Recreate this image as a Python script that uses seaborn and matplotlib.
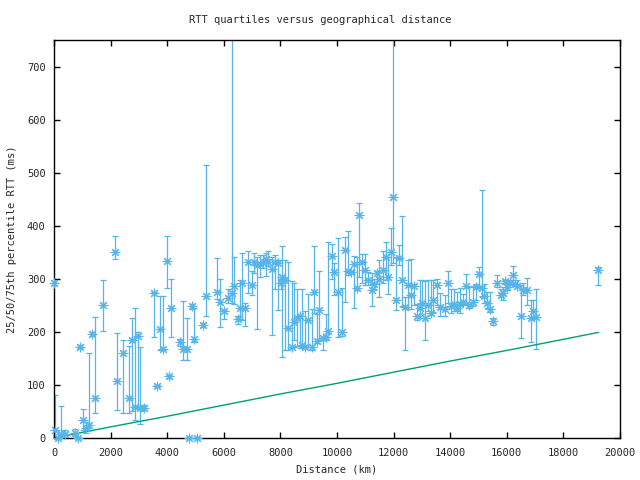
import matplotlib
matplotlib.use("Agg")
import matplotlib.pyplot as plt
import seaborn as sns
import pandas as pd
import numpy as np

# distance (km), 25th, 50th, 75th percentile RTT (ms)
distance = [0, 50, 140, 250, 390, 740, 850, 920, 1020, 1130, 1240, 1340, 1450, 1730,
            2160, 2230, 2440, 2650, 2760, 2860, 2960, 3040, 3180, 3540, 3650, 3750,
            3860, 3980, 4060, 4135, 4450, 4570, 4690, 4770, 4870, 4960, 5060, 5280,
            5370, 5750, 5880, 6000, 6140, 6280, 6370, 6490, 6570, 6655, 6750, 6870,
            6990, 7070, 7190, 7280, 7380, 7490, 7570, 7690, 7810, 7930, 8010, 8050,
            8160, 8280, 8400, 8490, 8600, 8690, 8780, 8870, 8990, 9110, 9190, 9280,
            9380, 9500, 9610, 9690, 9810, 9910, 10020, 10190, 10280, 10400, 10500,
            10610, 10700, 10790, 10900, 10990, 11110, 11230, 11290, 11400, 11500,
            11620, 11720, 11810, 11910, 11990, 12090, 12190, 12310, 12400, 12520,
            12620, 12720, 12810, 12930, 13020, 13110, 13230, 13320, 13400, 13520,
            13640, 13820, 13910, 14020, 14140, 14230, 14350, 14460, 14560, 14680,
            14800, 14910, 15030, 15110, 15180, 15290, 15410, 15530, 15640, 15790,
            15850, 15940, 16020, 16110, 16210, 16290, 16370, 16490, 16590, 16700,
            16850, 16940, 17030, 19240]
rtt_q1 = [288, 2, 0, 5, 5, 4, 0, 170, 15, 10, 15, 193, 47, 202,
          337, 52, 47, 48, 50, 34, 59, 26, 52, 190, 96, 166,
          165, 283, 113, 190, 174, 147, 147, 0, 244, 180, 0, 210,
          230, 262, 209, 224, 255, 254, 253, 215, 224, 223, 211, 273,
          270, 311, 205, 304, 320, 306, 325, 194, 281, 242, 280, 153,
          166, 166, 169, 185, 174, 169, 170, 169, 171, 166, 235, 179,
          185, 166, 185, 198, 300, 270, 191, 192, 257, 308, 310,
          245, 279, 303, 292, 289, 289, 249, 280, 290, 265,
          293, 298, 272, 326, 330, 242, 326, 248, 166, 243,
          243, 250, 223, 226, 234, 185, 240, 232, 238, 250,
          230, 230, 254, 235, 240, 240, 236, 250, 253, 245,
          248, 260, 287, 266, 255, 245, 238, 213, 285, 266,
          260, 290, 278, 290, 289, 287, 287, 188, 270, 251,
          180, 225, 167, 289]
rtt_med = [292, 16, 0, 8, 8, 9, 0, 172, 34, 19, 25, 196, 75, 251,
           350, 108, 161, 75, 185, 59, 192, 57, 57, 274, 98, 205,
           167, 333, 116, 245, 180, 167, 167, 0, 248, 186, 0, 213,
           268, 276, 257, 239, 264, 274, 286, 224, 245, 293, 245, 331,
           289, 331, 326, 328, 331, 337, 331, 318, 331, 330, 293, 304,
           298, 207, 172, 219, 226, 229, 175, 171, 223, 172, 276, 182,
           242, 188, 191, 202, 343, 313, 276, 199, 355, 314, 312,
           328, 282, 421, 331, 316, 298, 278, 291, 311, 300,
           316, 342, 304, 350, 454, 260, 339, 297, 247, 289,
           270, 286, 230, 245, 255, 226, 251, 236, 260, 289,
           247, 243, 292, 249, 253, 245, 253, 257, 287, 251,
           257, 284, 309, 282, 267, 255, 243, 221, 293, 270,
           273, 295, 284, 292, 308, 291, 287, 230, 279, 279,
           226, 240, 228, 316]
rtt_q3 = [296, 81, 0, 60, 16, 17, 0, 175, 55, 30, 160, 200, 228, 297,
          381, 197, 185, 174, 226, 245, 199, 172, 62, 276, 100, 268,
          267, 381, 118, 299, 186, 259, 226, 0, 252, 245, 0, 216,
          515, 339, 299, 241, 281, 1000, 341, 230, 298, 349, 254, 352,
          314, 349, 342, 345, 345, 349, 352, 342, 345, 336, 300, 361,
          335, 331, 295, 293, 281, 231, 280, 240, 272, 243, 362, 234,
          314, 191, 234, 369, 366, 330, 377, 282, 379, 391, 314,
          343, 342, 442, 347, 347, 312, 311, 300, 315, 336,
          352, 370, 342, 396, 1000, 342, 364, 419, 265, 336,
          337, 290, 253, 297, 297, 295, 298, 298, 298, 300,
          274, 270, 314, 280, 281, 275, 283, 272, 309, 285,
          287, 290, 322, 468, 290, 275, 275, 226, 307, 280,
          285, 297, 295, 297, 325, 297, 297, 289, 292, 301,
          260, 260, 281, 322]

# lower bound line (green)
bound_distance = [0, 2000, 4000, 6000, 8000, 10000, 12000, 14000, 16000, 19240]
bound_rtt = [0, 21, 41, 62, 83, 103, 124, 145, 165, 199]

x_ticks = list(range(0, 20001, 2000))
y_ticks = list(range(0, 701, 100))

blue = "#56B4E9"
green = "#009E73"

sns.set_style("white")
plt.rcParams['font.family'] = ['DejaVu Sans Mono']
fs = 7.5

df = pd.DataFrame({"distance": distance, "q1": rtt_q1, "med": rtt_med, "q3": rtt_q3})
bound = pd.DataFrame({"distance": bound_distance, "rtt": bound_rtt})

fig = plt.figure(figsize=(6.4, 4.8), dpi=100)
ax = fig.add_axes([54/640, 1-438/480, (620-54)/640, (438-40)/480])

med = df["med"].to_numpy()
yerr = np.vstack([med - df["q1"].to_numpy(), df["q3"].to_numpy() - med])
ax.errorbar(df["distance"], med, yerr=yerr, fmt='none', ecolor=blue,
            elinewidth=0.9, capsize=2.5, capthick=0.9)
sns.scatterplot(data=df, x="distance", y="med", marker=(8, 2, 0), s=40,
                color=blue, edgecolor=blue, linewidth=0.8, ax=ax, clip_on=False, zorder=3)
sns.lineplot(data=bound, x="distance", y="rtt", color=green, linewidth=1.0, ax=ax)

ax.set_xlim(0, 20000)
ax.set_ylim(0, 750)
ax.set_xticks(x_ticks)
ax.set_yticks(y_ticks)
ax.set_xticklabels([str(v) for v in x_ticks], fontsize=fs)
ax.set_yticklabels([str(v) for v in y_ticks], fontsize=fs)
ax.tick_params(direction='in', length=4, width=1, top=True, right=True,
               bottom=True, left=True, color='black')
ax.tick_params(axis='x', pad=7)
ax.tick_params(axis='y', pad=6)
for s in ax.spines.values():
    s.set_color('black')
    s.set_linewidth(1)
ax.set_xlabel("")
ax.set_ylabel("")

fig.text(0.5, 1-20/480, "RTT quartiles versus geographical distance",
         ha='center', va='center', fontsize=fs)
fig.text((54+620)/2/640, 1-470/480, "Distance (km)", ha='center', va='center', fontsize=fs)
fig.text(12/640, (1-239/480), "25/50/75th percentile RTT (ms)", ha='center', va='center',
         rotation=90, fontsize=fs)

fig.savefig("out.png", dpi=100)
